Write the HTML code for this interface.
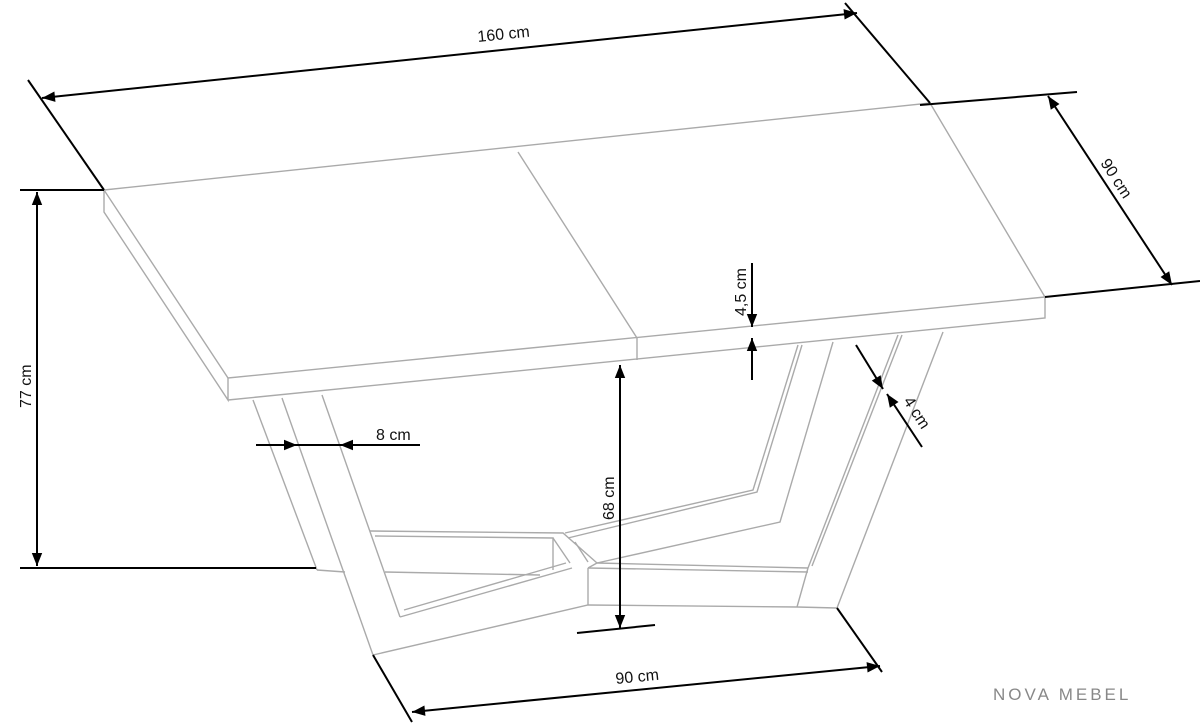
<!DOCTYPE html>
<html><head><meta charset="utf-8"><style>
html,body{margin:0;padding:0;background:#fff}
svg{display:block}
text{font-family:"Liberation Sans",sans-serif;font-size:16px;fill:#111}
</style></head><body>
<svg width="1200" height="724" viewBox="0 0 1200 724" xmlns="http://www.w3.org/2000/svg">
<defs>
<marker id="a" viewBox="0 0 10 10" refX="10" refY="5" markerWidth="15" markerHeight="13" markerUnits="userSpaceOnUse" orient="auto-start-reverse"><path d="M0,1 L10,5 L0,9 z" fill="#000"/></marker>
</defs>
<g stroke="#aaa" stroke-width="1.4" fill="none">
<path d="M104,190 L930,103 L1045,297 L228,378 Z"/>
<path d="M518,152 L637,338"/>
<path d="M104,190 L104,212 L228,400 L228,378"/>
<path d="M228,400 L1045,318 L1045,297"/>
<path d="M637,338 L637,360"/>
<path d="M253,400 L317,570"/>
<path d="M282,398 L373,655"/>
<path d="M322,395 L400,617"/>
<path d="M373,655 L588,605 L797,607 L837,608"/>
<path d="M588,605 L588,568"/>
<path d="M370,531 L563,533 L597,563"/>
<path d="M375,536 L553,538 L553,570"/>
<path d="M553,538 L570,563"/>
<path d="M400,617 L572,568"/>
<path d="M404,610 L566,563"/>
<path d="M385,572 L540,575"/>
<path d="M317,570 L345,572"/>
<path d="M798,345 L753,490 L565,533"/>
<path d="M802,345 L757,492 L568,538"/>
<path d="M833,342 L780,522 L597,563"/>
<path d="M898,335 L808,568"/>
<path d="M902,335 L812,566"/>
<path d="M943,332 L837,608"/>
<path d="M597,563 L808,568"/>
<path d="M588,568 L597,563"/>
<path d="M588,568 L808,572"/>
<path d="M575,542 L588,562"/>
<path d="M797,607 L808,568"/>
</g>
<g stroke="#000" stroke-width="2" fill="none">
<path d="M28,80 L104,190"/>
<path d="M845,3 L930,103"/>
<path d="M42,98 L857,13" marker-start="url(#a)" marker-end="url(#a)"/>
<path d="M920,105 L1077,92"/>
<path d="M1045,297 L1200,281"/>
<path d="M1048,96 L1172,285" marker-start="url(#a)" marker-end="url(#a)"/>
<path d="M20,190 L104,190"/>
<path d="M20,568 L316,568"/>
<path d="M37,192 L37,566" marker-start="url(#a)" marker-end="url(#a)"/>
<path d="M752,263 L752,327" marker-end="url(#a)"/>
<path d="M752,380 L752,338" marker-end="url(#a)"/>
<path d="M577,633 L655,625"/>
<path d="M620,365 L620,628" marker-start="url(#a)" marker-end="url(#a)"/>
<path d="M256,445 L297,445" marker-end="url(#a)"/>
<path d="M297,445 L340,445"/>
<path d="M420,445 L340,445" marker-end="url(#a)"/>
<path d="M856,345 L883,389" marker-end="url(#a)"/>
<path d="M922,447 L887,394" marker-end="url(#a)"/>
<path d="M373,655 L412,722"/>
<path d="M837,608 L882,672"/>
<path d="M412,712 L880,666" marker-start="url(#a)" marker-end="url(#a)"/>
</g>
<text x="478" y="42" transform="rotate(-5.9 478 42)">160 cm</text>
<text x="1100" y="163" transform="rotate(57 1100 163)">90 cm</text>
<text x="31" y="408" transform="rotate(-90 31 408)">77 cm</text>
<text x="746" y="316" transform="rotate(-90 746 316)">4,5 cm</text>
<text x="614" y="520" transform="rotate(-90 614 520)">68 cm</text>
<text x="376" y="440">8 cm</text>
<text x="903" y="401" transform="rotate(57 903 401)">4 cm</text>
<text x="616" y="684" transform="rotate(-5.6 616 684)">90 cm</text>
<text x="993" y="700" style="font-size:17px;letter-spacing:3px;fill:#888">NOVA MEBEL</text>
</svg>
</body></html>
